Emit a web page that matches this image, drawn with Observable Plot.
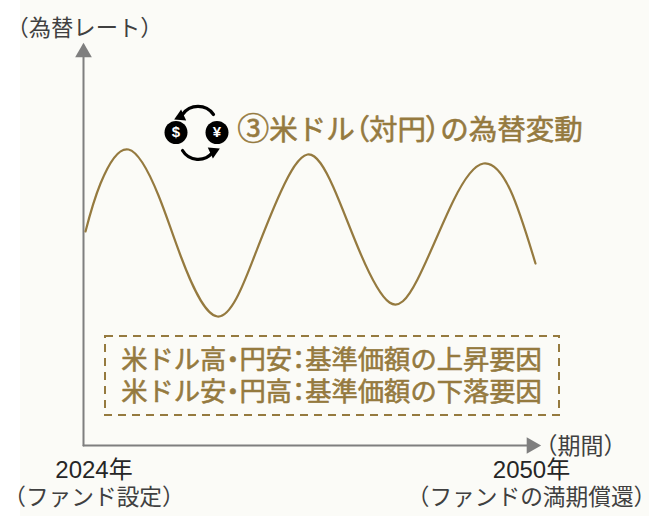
<!DOCTYPE html>
<html><head><meta charset="utf-8">
<script src="https://cdn.jsdelivr.net/npm/d3@7"></script>
<script src="https://cdn.jsdelivr.net/npm/@observablehq/plot@0.6"></script>
<style>html,body{margin:0;padding:0;background:#fff}svg{display:block}</style>
</head><body><div id="c"></div>
<script>
// schematic curve: period (0-450) and rate level (0-400)
const period = [0,15,43,73,95,132,168,195,222,248,275,304,332,368,398,425,450];
const rate   = [214,262,296,250,190,129,187,253,291,258,192,143,166,245,282,255,182];
const axisLabels = ["（為替レート）","（期間）"];
const startLabels = ["2024年","（ファンド設定）"];
const endLabels = ["2050年","（ファンドの満期償還）"];
const title = "③米ドル（対円）の為替変動";
const notes = ["米ドル高・円安：基準価額の上昇要因","米ドル安・円高：基準価額の下落要因"];
const currencies = ["$","¥"];

const gold="#957a3f", grey="#7f7f7f", ink="#404040", dark="#262626";
const sans='"Liberation Sans","Noto Sans CJK JP",sans-serif';
const X=p=>p-85, Y=p=>445-p;
const curve = period.map((p,i)=>({p,r:rate[i]}));
const tick = (t,px,py,o={})=>Plot.text([t],{x:()=>X(px),y:()=>Y(py),text:d=>d,fontFamily:sans,fontSize:22.7,fill:ink,...o});
const heavy={fontWeight:400,fill:gold,stroke:gold,strokeWidth:0.6};

const chart = Plot.plot({
  width:657,height:516,margin:0,
  style:{background:"#fff",overflow:"visible"},
  x:{domain:[0,450],range:[85,535],axis:null},
  y:{domain:[0,400],range:[445,45],axis:null},
  marks:[
    Plot.rect([0],{x1:()=>X(20),x2:()=>X(649),y1:()=>Y(0),y2:()=>Y(516),fill:"#fbfbf7"}),
    // axes
    Plot.line([[X(83),Y(445)],[X(83),Y(54)]],{stroke:grey,strokeWidth:2}),
    Plot.line([[X(83),Y(445)],[X(528),Y(445)]],{stroke:grey,strokeWidth:2}),
    Plot.dot([0],{x:()=>X(83),y:()=>Y(52),symbol:"triangle",r:6.2,fill:grey,stroke:"none"}),
    Plot.dot([0],{x:()=>X(531),y:()=>Y(445),symbol:"triangle",r:6.2,rotate:90,fill:grey,stroke:"none"}),
    // curve
    Plot.line(curve,{x:"p",y:"r",curve:"natural",stroke:gold,strokeWidth:2.2}),
    // note box
    Plot.rect([0],{x1:()=>X(105),x2:()=>X(559),y1:()=>Y(336),y2:()=>Y(415),fill:"none",stroke:gold,strokeWidth:2,strokeDasharray:"8 6"}),
    tick(notes[0],331,360,{fontSize:26.3,...heavy}),
    tick(notes[1],331,392,{fontSize:26.3,...heavy}),
    // title
    tick(title,409.5,130,{fontSize:28.5,...heavy}),
    // icon
    Plot.dot(currencies,{x:(d,i)=>X(175.5+i*41),y:()=>Y(132),r:11.5,fill:"#000",stroke:"none"}),
    Plot.text(currencies,{x:(d,i)=>X(175.5+i*41),y:()=>Y(132),text:d=>d,fill:"#fff",fontSize:15,fontWeight:700,fontFamily:sans}),
    Plot.arrow([0],{x1:()=>X(213),y1:()=>Y(114),x2:()=>X(182),y2:()=>Y(114),bend:-55,stroke:"#000",strokeWidth:3.2,headLength:0}),
    Plot.arrow([0],{x1:()=>X(182),y1:()=>Y(150),x2:()=>X(212),y2:()=>Y(152),bend:-55,stroke:"#000",strokeWidth:3.2,headLength:0}),
    Plot.dot([0],{x:()=>X(180),y:()=>Y(116),symbol:"triangle",r:4.5,rotate:245,fill:"#000",stroke:"none"}),
    Plot.dot([0],{x:()=>X(213),y:()=>Y(151),symbol:"triangle",r:4.5,rotate:65,fill:"#000",stroke:"none"}),
    // labels
    tick(axisLabels[0],84,28,{fontSize:22.3}),
    tick(axisLabels[1],580,446,{fontSize:23}),
    tick(startLabels[0],93.5,470,{fontSize:24,fill:dark}),
    tick(startLabels[1],93.5,497),
    tick(endLabels[0],531,470,{fontSize:24,fill:dark}),
    tick(endLabels[1],531,497)
  ]
});
// proportional setting for the full-width punctuation, and a larger ③
const squeeze=el=>{
  const s=el.textContent;
  el.textContent="";
  for(const ch of s){
    const t=document.createElementNS("http://www.w3.org/2000/svg","tspan");
    t.textContent=ch;
    if("・：（）".includes(ch)) t.style.fontFeatureSettings='"palt"';
    if(ch==="③") t.style.fontSize="32px";
    el.append(t);
  }
};
chart.querySelectorAll("text").forEach(t=>{
  if(notes.includes(t.textContent)||t.textContent===title) squeeze(t);
});
document.getElementById("c").append(chart);
</script></body></html>
